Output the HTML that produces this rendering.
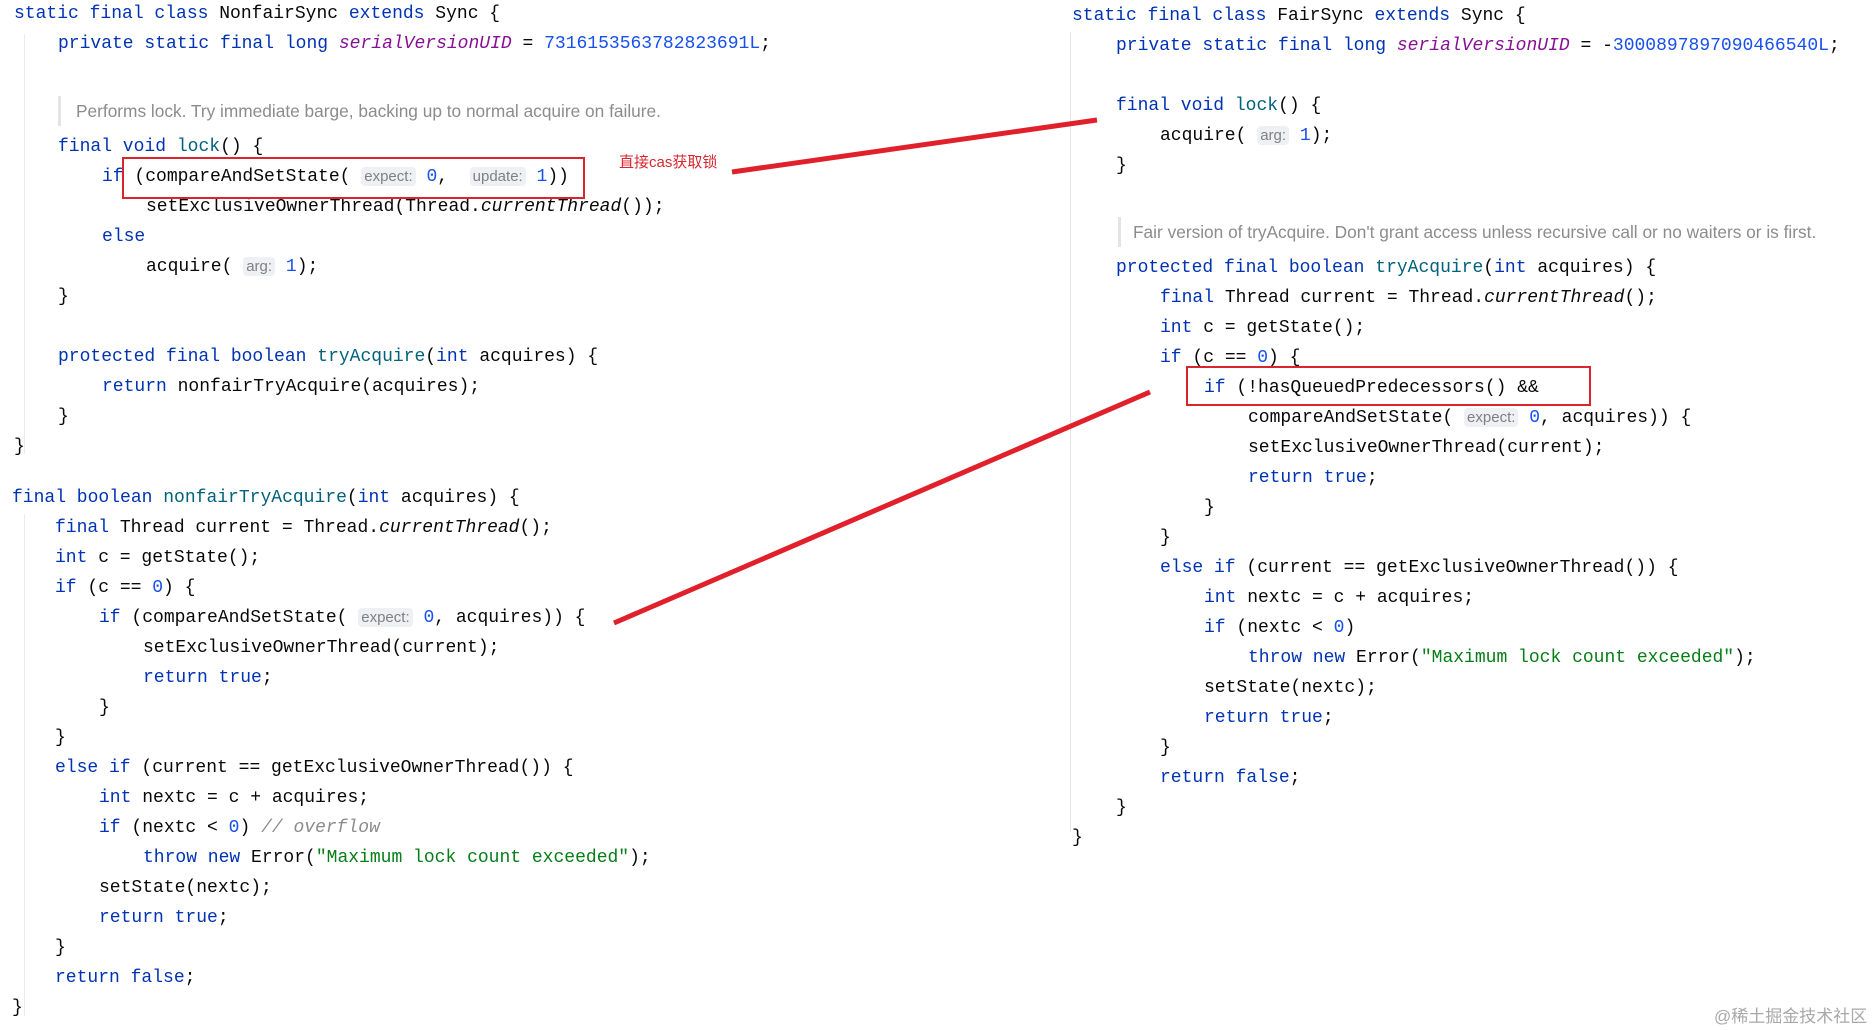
<!DOCTYPE html>
<html><head><meta charset="utf-8"><style>
html,body{margin:0;padding:0;background:#fff;}
#c{position:relative;width:1875px;height:1030px;overflow:hidden;background:#fff;}
#w{position:absolute;left:0;top:2px;width:1875px;height:1030px;}
.l{position:absolute;white-space:pre;font-family:"Liberation Mono",monospace;font-size:18px;line-height:30px;height:30px;color:#080808;}
.k{color:#0033b3}.m{color:#00627a}.p{color:#871094;font-style:italic}.n{color:#1750eb}.s{color:#067d17}.i{font-style:italic}.c{color:#8c8c8c;font-style:italic}
.h{font-family:"Liberation Sans",sans-serif;font-size:15px;color:#808080;background:#eef0f3;border-radius:4px;padding:1px 3px;}
.cm{position:absolute;font-family:"Liberation Sans",sans-serif;font-size:17.3px;color:#8c8c8c;white-space:pre;line-height:30px;}
.bar{position:absolute;width:3px;background:#e4e4e4;}
.g{position:absolute;width:1px;background:#ececec;}
.box{position:absolute;border:2px solid #d9262e;}
</style></head><body><div id="c"><div id="w">
<div class="g" style="left:24px;top:32px;height:420px"></div>
<div class="g" style="left:24px;top:512px;height:502px"></div>
<div class="g" style="left:1070px;top:30px;height:800px;background:#e6e6e6"></div>

<div class="l" style="left:14px;top:-3px"><span class="k">static final class</span> NonfairSync <span class="k">extends</span> Sync {</div>
<div class="l" style="left:58px;top:27px"><span class="k">private static final long</span> <span class="p">serialVersionUID</span> = <span class="n">7316153563782823691L</span>;</div>
<div class="bar" style="left:58px;top:94px;height:30px"></div>
<div class="cm" style="left:76px;top:94px">Performs lock. Try immediate barge, backing up to normal acquire on failure.</div>
<div class="l" style="left:58px;top:130px"><span class="k">final void</span> <span class="m">lock</span>() {</div>
<div class="l" style="left:102px;top:160px"><span class="k">if</span> (compareAndSetState( <span class="h">expect:</span> <span class="n">0</span>,  <span class="h">update:</span> <span class="n">1</span>))</div>
<div class="l" style="left:146px;top:190px">setExclusiveOwnerThread(Thread.<span class="i">currentThread</span>());</div>
<div class="l" style="left:102px;top:220px"><span class="k">else</span></div>
<div class="l" style="left:146px;top:250px">acquire( <span class="h">arg:</span> <span class="n">1</span>);</div>
<div class="l" style="left:58px;top:280px">}</div>
<div class="l" style="left:58px;top:340px"><span class="k">protected final boolean</span> <span class="m">tryAcquire</span>(<span class="k">int</span> acquires) {</div>
<div class="l" style="left:102px;top:370px"><span class="k">return</span> nonfairTryAcquire(acquires);</div>
<div class="l" style="left:58px;top:400px">}</div>
<div class="l" style="left:14px;top:430px">}</div>

<div class="l" style="left:12px;top:481px"><span class="k">final boolean</span> <span class="m">nonfairTryAcquire</span>(<span class="k">int</span> acquires) {</div>
<div class="l" style="left:55px;top:511px"><span class="k">final</span> Thread current = Thread.<span class="i">currentThread</span>();</div>
<div class="l" style="left:55px;top:541px"><span class="k">int</span> c = getState();</div>
<div class="l" style="left:55px;top:571px"><span class="k">if</span> (c == <span class="n">0</span>) {</div>
<div class="l" style="left:99px;top:601px"><span class="k">if</span> (compareAndSetState( <span class="h">expect:</span> <span class="n">0</span>, acquires)) {</div>
<div class="l" style="left:143px;top:631px">setExclusiveOwnerThread(current);</div>
<div class="l" style="left:143px;top:661px"><span class="k">return true</span>;</div>
<div class="l" style="left:99px;top:691px">}</div>
<div class="l" style="left:55px;top:721px">}</div>
<div class="l" style="left:55px;top:751px"><span class="k">else if</span> (current == getExclusiveOwnerThread()) {</div>
<div class="l" style="left:99px;top:781px"><span class="k">int</span> nextc = c + acquires;</div>
<div class="l" style="left:99px;top:811px"><span class="k">if</span> (nextc &lt; <span class="n">0</span>) <span class="c">// overflow</span></div>
<div class="l" style="left:143px;top:841px"><span class="k">throw new</span> Error(<span class="s">"Maximum lock count exceeded"</span>);</div>
<div class="l" style="left:99px;top:871px">setState(nextc);</div>
<div class="l" style="left:99px;top:901px"><span class="k">return true</span>;</div>
<div class="l" style="left:55px;top:931px">}</div>
<div class="l" style="left:55px;top:961px"><span class="k">return false</span>;</div>
<div class="l" style="left:12px;top:991px">}</div>

<div class="l" style="left:1072px;top:-1px"><span class="k">static final class</span> FairSync <span class="k">extends</span> Sync {</div>
<div class="l" style="left:1116px;top:29px"><span class="k">private static final long</span> <span class="p">serialVersionUID</span> = -<span class="n">3000897897090466540L</span>;</div>
<div class="l" style="left:1116px;top:89px"><span class="k">final void</span> <span class="m">lock</span>() {</div>
<div class="l" style="left:1160px;top:119px">acquire( <span class="h">arg:</span> <span class="n">1</span>);</div>
<div class="l" style="left:1116px;top:149px">}</div>
<div class="bar" style="left:1118px;top:215px;height:30px"></div>
<div class="cm" style="left:1133px;top:215px">Fair version of tryAcquire. Don't grant access unless recursive call or no waiters or is first.</div>
<div class="l" style="left:1116px;top:251px"><span class="k">protected final boolean</span> <span class="m">tryAcquire</span>(<span class="k">int</span> acquires) {</div>
<div class="l" style="left:1160px;top:281px"><span class="k">final</span> Thread current = Thread.<span class="i">currentThread</span>();</div>
<div class="l" style="left:1160px;top:311px"><span class="k">int</span> c = getState();</div>
<div class="l" style="left:1160px;top:341px"><span class="k">if</span> (c == <span class="n">0</span>) {</div>
<div class="l" style="left:1204px;top:371px"><span class="k">if</span> (!hasQueuedPredecessors() &amp;&amp;</div>
<div class="l" style="left:1248px;top:401px">compareAndSetState( <span class="h">expect:</span> <span class="n">0</span>, acquires)) {</div>
<div class="l" style="left:1248px;top:431px">setExclusiveOwnerThread(current);</div>
<div class="l" style="left:1248px;top:461px"><span class="k">return true</span>;</div>
<div class="l" style="left:1204px;top:491px">}</div>
<div class="l" style="left:1160px;top:521px">}</div>
<div class="l" style="left:1160px;top:551px"><span class="k">else if</span> (current == getExclusiveOwnerThread()) {</div>
<div class="l" style="left:1204px;top:581px"><span class="k">int</span> nextc = c + acquires;</div>
<div class="l" style="left:1204px;top:611px"><span class="k">if</span> (nextc &lt; <span class="n">0</span>)</div>
<div class="l" style="left:1248px;top:641px"><span class="k">throw new</span> Error(<span class="s">"Maximum lock count exceeded"</span>);</div>
<div class="l" style="left:1204px;top:671px">setState(nextc);</div>
<div class="l" style="left:1204px;top:701px"><span class="k">return true</span>;</div>
<div class="l" style="left:1160px;top:731px">}</div>
<div class="l" style="left:1160px;top:761px"><span class="k">return false</span>;</div>
<div class="l" style="left:1116px;top:791px">}</div>
<div class="l" style="left:1072px;top:821px">}</div>

<div class="box" style="left:122px;top:155px;width:459px;height:38px"></div>
<div class="box" style="left:1186px;top:364px;width:401px;height:36px"></div>
<div style="position:absolute;left:619px;top:149px;font-family:'Liberation Sans','Noto Sans CJK SC',sans-serif;font-size:15px;color:#d9262e;">直接cas获取锁</div>
<svg style="position:absolute;left:0;top:-2px" width="1875" height="1030">
<line x1="732" y1="172" x2="1097" y2="120" stroke="#e0202a" stroke-width="5"/>
<line x1="614" y1="623" x2="1150" y2="392" stroke="#e0202a" stroke-width="5"/>
</svg>
<div style="position:absolute;left:1714px;top:1000px;font-family:'Liberation Sans','Noto Sans CJK SC',sans-serif;font-size:17px;color:#a8a8a8;">@稀土掘金技术社区</div>
</div></div></body></html>
